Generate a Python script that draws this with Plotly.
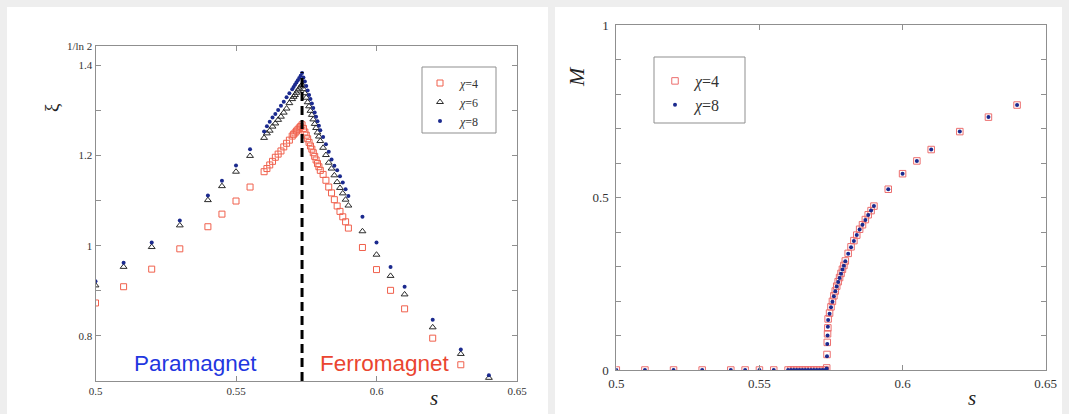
import plotly.graph_objects as go
import math

# ---------------- data ----------------
s_left = [0.500, 0.510, 0.520, 0.530, 0.540, 0.545, 0.550, 0.555, 0.560, 0.561, 0.562, 0.563,
          0.564, 0.565, 0.566, 0.567, 0.568, 0.569,
          0.5700, 0.5705, 0.5710, 0.5715, 0.5720, 0.5725, 0.5730, 0.5735,
          0.5740, 0.5745, 0.5750, 0.5755, 0.5760, 0.5765, 0.5770, 0.5775, 0.5780, 0.5785,
          0.5790, 0.5795, 0.5800,
          0.581, 0.582, 0.583, 0.584, 0.585, 0.586, 0.587, 0.588, 0.589, 0.590,
          0.595, 0.600, 0.605, 0.610, 0.620, 0.630, 0.640]

xi_chi4 = [0.873, 0.909, 0.948, 0.993, 1.042, 1.070, 1.099, 1.130, 1.164, 1.171, 1.179, 1.187,
           1.196, 1.203, 1.210, 1.219, 1.227, 1.234,
           1.243, 1.247, 1.250, 1.254, 1.257, 1.261, 1.264, 1.268,
           1.260, 1.252, 1.245, 1.237, 1.229, 1.221, 1.214, 1.206, 1.198, 1.190,
           1.182, 1.175, 1.167,
           1.158, 1.145, 1.130, 1.117, 1.102, 1.088, 1.076, 1.064, 1.053, 1.039,
           0.996, 0.947, 0.901, 0.860, 0.795, 0.736, 0.688]

xi_chi6 = [0.912, 0.953, 0.997, 1.045, 1.101, 1.132, 1.164, 1.199, 1.239, 1.249, 1.255, 1.264,
           1.271, 1.279, 1.286, 1.295, 1.304, 1.316,
           1.325, 1.330, 1.334, 1.339, 1.344, 1.348, 1.353, 1.357,
           1.347, 1.338, 1.328, 1.318, 1.309, 1.299, 1.290, 1.280, 1.270, 1.261,
           1.251, 1.242, 1.232,
           1.217, 1.201, 1.184, 1.171, 1.156, 1.141, 1.128, 1.116, 1.102, 1.089,
           1.032, 0.980, 0.933, 0.892, 0.819, 0.760, 0.707]

xi_chi8 = [0.921, 0.962, 1.007, 1.056, 1.111, 1.144, 1.178, 1.214, 1.253, 1.265, 1.275, 1.284,
           1.292, 1.301, 1.310, 1.319, 1.329, 1.338,
           1.347, 1.352, 1.357, 1.362, 1.367, 1.372, 1.377, 1.383,
           1.373, 1.364, 1.354, 1.344, 1.334, 1.325, 1.315, 1.305, 1.295, 1.286,
           1.276, 1.266, 1.256,
           1.241, 1.225, 1.208, 1.191, 1.177, 1.167, 1.154, 1.140, 1.125, 1.110,
           1.064, 1.007, 0.953, 0.909, 0.836, 0.770, 0.713]

s_crit = [0.5735, 0.5735]
xi_crit = [0.70, 1.385]

s_right = [0.500, 0.510, 0.520, 0.530, 0.540, 0.545, 0.550, 0.555, 0.560, 0.561, 0.562, 0.563,
           0.564, 0.565, 0.566, 0.567, 0.568, 0.569, 0.570, 0.571, 0.572, 0.573,
           0.5735, 0.5736, 0.5737, 0.5738, 0.5739, 0.5740,
           0.5745, 0.5750, 0.5755, 0.5760, 0.5765, 0.5770, 0.5775, 0.5780, 0.5785, 0.5790,
           0.5795, 0.5800,
           0.581, 0.582, 0.583, 0.584, 0.585, 0.586, 0.587, 0.588, 0.589, 0.590,
           0.595, 0.600, 0.605, 0.610, 0.620, 0.630, 0.640]

M_chi4 = [0.0, 0.0, 0.0, 0.0, 0.0, 0.0, 0.0, 0.0, 0.0, 0.0, 0.0, 0.0,
          0.0, 0.0, 0.0, 0.0, 0.0, 0.0, 0.0, 0.0, 0.0, 0.0,
          0.006, 0.045, 0.080, 0.105, 0.122, 0.148,
          0.165, 0.183, 0.199, 0.215, 0.229, 0.243, 0.256, 0.268, 0.280, 0.292,
          0.303, 0.316,
          0.338, 0.357, 0.375, 0.391, 0.408, 0.421, 0.436, 0.450, 0.462, 0.475,
          0.524, 0.569, 0.606, 0.639, 0.691, 0.733, 0.768]

M_chi8 = [0.0, 0.0, 0.0, 0.0, 0.0, 0.0, 0.0, 0.0, 0.0, 0.0, 0.0, 0.0,
          0.0, 0.0, 0.0, 0.0, 0.0, 0.0, 0.0, 0.0, 0.0, 0.0,
          0.004, 0.040, 0.075, 0.100, 0.125, 0.145,
          0.163, 0.182, 0.198, 0.214, 0.228, 0.242, 0.255, 0.267, 0.279, 0.291,
          0.302, 0.315,
          0.337, 0.356, 0.374, 0.391, 0.407, 0.421, 0.435, 0.449, 0.462, 0.475,
          0.524, 0.569, 0.606, 0.639, 0.691, 0.733, 0.768]

left_y_ticks = [0.8, 0.9, 1.0, 1.1, 1.2, 1.3, 1.4, 1 / math.log(2)]
left_y_text = ["0.8", "", "1", "", "1.2", "", "1.4", "1/ln 2"]
x_ticks = [0.5, 0.55, 0.6, 0.65]
x_text = ["0.5", "0.55", "0.6", "0.65"]
right_y_ticks = [0.0, 0.1, 0.2, 0.3, 0.4, 0.5, 0.6, 0.7, 0.8, 0.9, 1.0]
right_y_text = ["0", "", "", "", "", "0.5", "", "", "", "", "1"]

# ---------------- styling ----------------
W, H = 1069, 414
RED = "#f0604c"
PINK = "#ec6e6e"
NAVY = "#1b2a8e"
TRI = "#2b2b2b"
FRAME = "#8f8f8f"
SERIF = "Liberation Serif, DejaVu Serif, serif"
SANS = "Liberation Sans, Arial, sans-serif"


def px(x):
    return x / W


def py(y):
    return 1 - y / H


fig = go.Figure()

fig.add_trace(go.Scatter(x=s_left, y=xi_chi4, mode="markers", name="<i>χ</i>=4",
                         marker=dict(symbol="square-open", size=6, color=RED, line=dict(width=1)),
                         xaxis="x", yaxis="y", legend="legend"))
fig.add_trace(go.Scatter(x=s_left, y=xi_chi6, mode="markers", name="<i>χ</i>=6",
                         marker=dict(symbol="triangle-up-open", size=6, color=TRI, line=dict(width=1)),
                         xaxis="x", yaxis="y", legend="legend"))
fig.add_trace(go.Scatter(x=s_left, y=xi_chi8, mode="markers", name="<i>χ</i>=8",
                         marker=dict(symbol="circle", size=4, color=NAVY),
                         xaxis="x", yaxis="y", legend="legend"))
fig.add_trace(go.Scatter(x=s_crit, y=xi_crit, mode="lines", showlegend=False,
                         line=dict(color="black", width=3, dash="9px,5px"),
                         xaxis="x", yaxis="y"))

fig.add_trace(go.Scatter(x=s_right, y=M_chi4, mode="markers", name="<i>χ</i>=4",
                         marker=dict(symbol="square-open", size=6.5, color=PINK, line=dict(width=1)),
                         xaxis="x2", yaxis="y2", legend="legend2", legendgroup="a"))
fig.add_trace(go.Scatter(x=s_right, y=M_chi8, mode="markers", name="<i>χ</i>=8",
                         marker=dict(symbol="circle", size=4, color=NAVY),
                         xaxis="x2", yaxis="y2", legend="legend2", legendgroup="b"))

axis_common = dict(showgrid=False, zeroline=False, showline=True, linecolor=FRAME, linewidth=1,
                   mirror="allticks", ticks="inside", ticklen=5, tickcolor=FRAME, tickwidth=1)

fig.update_layout(
    width=W, height=H,
    margin=dict(l=0, r=0, t=0, b=0, autoexpand=False),
    paper_bgcolor="#eeeeee",
    plot_bgcolor="white",
    showlegend=True,
    xaxis=dict(domain=[px(95.5), px(517)], range=[0.5, 0.65], anchor="y",
               tickvals=x_ticks, ticktext=x_text,
               tickfont=dict(family=SERIF, size=11, color="#333"), **axis_common),
    yaxis=dict(domain=[py(381), py(46)], range=[0.7, 1 / math.log(2)], anchor="x",
               tickvals=left_y_ticks, ticktext=left_y_text,
               tickfont=dict(family=SERIF, size=11, color="#333"), **axis_common),
    xaxis2=dict(domain=[px(616.3), px(1045.7)], range=[0.5, 0.65], anchor="y2",
                tickvals=x_ticks, ticktext=x_text, ticklabelstandoff=1,
                tickfont=dict(family=SERIF, size=13, color="#333"), **axis_common),
    yaxis2=dict(domain=[py(370), py(25)], range=[0, 1], anchor="x2",
                tickvals=right_y_ticks, ticktext=right_y_text, ticklabelstandoff=4,
                tickfont=dict(family=SERIF, size=13, color="#333"), **axis_common),
    legend=dict(x=px(420), y=py(68.5), xanchor="left", yanchor="top",
                bgcolor="rgba(0,0,0,0)", borderwidth=0,
                font=dict(family=SERIF, size=12, color="#333"), itemwidth=30),
    legend2=dict(x=px(655), y=py(64), xanchor="left", yanchor="top",
                 bgcolor="rgba(0,0,0,0)", borderwidth=0, tracegroupgap=0,
                 font=dict(family=SERIF, size=16, color="#333"), itemwidth=30),
    shapes=[
        dict(type="rect", xref="paper", yref="paper", x0=px(7), x1=px(548), y0=0, y1=py(7),
             fillcolor="white", line=dict(width=0), layer="below"),
        dict(type="rect", xref="paper", yref="paper", x0=px(555), x1=px(1062), y0=0, y1=py(7),
             fillcolor="white", line=dict(width=0), layer="below"),
        dict(type="rect", xref="paper", yref="paper", x0=px(422), x1=px(496), y0=py(133), y1=py(67),
             fillcolor="rgba(0,0,0,0)", line=dict(width=1, color=FRAME)),
        dict(type="rect", xref="paper", yref="paper", x0=px(654), x1=px(745), y0=py(123), y1=py(57),
             fillcolor="rgba(0,0,0,0)", line=dict(width=1, color=FRAME)),
    ],
    annotations=[
        dict(text="ξ", x=px(51), y=py(108), xref="paper", yref="paper", showarrow=False,
             textangle=-90, font=dict(family=SERIF, size=19, color="#222"), xanchor="center", yanchor="middle"),
        dict(text="<i>s</i>", x=px(434), y=py(398), xref="paper", yref="paper", showarrow=False,
             font=dict(family=SERIF, size=21, color="#222"), xanchor="center", yanchor="middle"),
        dict(text="<i>M</i>", x=px(577), y=py(77), xref="paper", yref="paper", showarrow=False,
             textangle=-90, font=dict(family=SERIF, size=22, color="#222"), xanchor="center", yanchor="middle"),
        dict(text="<i>s</i>", x=px(972), y=py(398), xref="paper", yref="paper", showarrow=False,
             font=dict(family=SERIF, size=21, color="#222"), xanchor="center", yanchor="middle"),
        dict(text="Paramagnet", x=px(195), y=py(363), xref="paper", yref="paper", showarrow=False,
             font=dict(family=SANS, size=22.5, color="#1f37e0"), xanchor="center", yanchor="middle"),
        dict(text="Ferromagnet", x=px(385), y=py(363), xref="paper", yref="paper", showarrow=False,
             font=dict(family=SANS, size=22.5, color="#ea4530"), xanchor="center", yanchor="middle"),
    ],
)

fig.write_html("out.html",
               config={"displayModeBar": False},
               post_script="document.body.style.margin='0px';document.body.style.overflow='hidden';")
